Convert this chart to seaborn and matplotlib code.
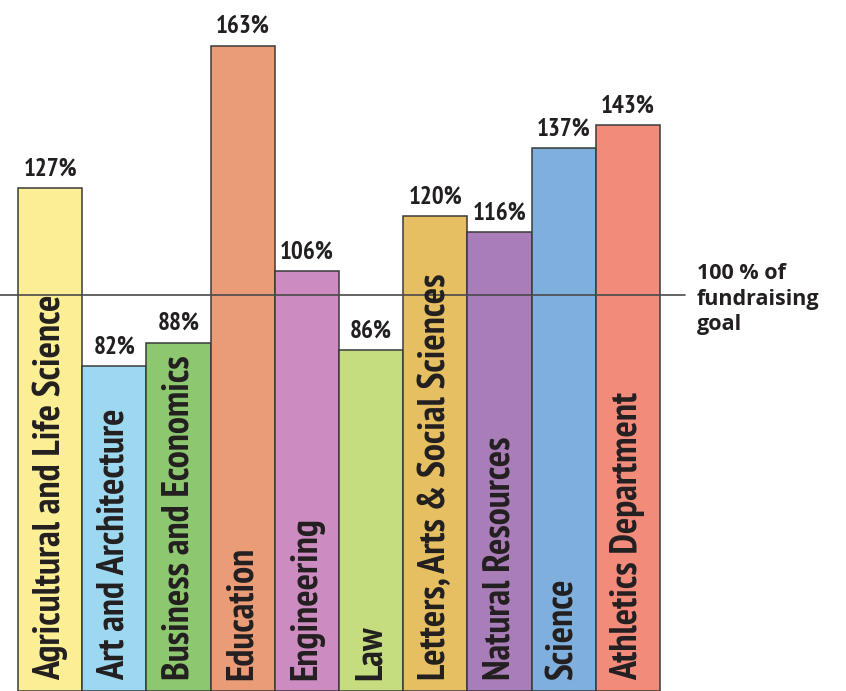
import matplotlib
matplotlib.use("Agg")
import matplotlib.pyplot as plt
import seaborn as sns
import pandas as pd

categories = ["Agricultural and Life Science", "Art and Architecture",
              "Business and Economics", "Education", "Engineering", "Law",
              "Letters, Arts & Social Sciences", "Natural Resources",
              "Science", "Athletics Department"]
values = [127, 82, 88, 163, 106, 86, 120, 116, 137, 143]
colors = ["#FBEE94", "#9DD8F1", "#8DC871", "#EA9C76", "#CC8BC1",
          "#C6DD7F", "#E6BF63", "#A97EB8", "#7EAFDD", "#F28B7A"]
goal = 100
goal_label = "100 % of\nfundraising\ngoal"

sns.set_theme(style="white")
plt.rcParams["font.family"] = ["Open Sans", "DejaVu Sans"]
narrow = ["PT Sans Narrow", "DejaVu Sans"]
ink = "#231F20"

df = pd.DataFrame({"cat": categories, "val": values})

fig = plt.figure(figsize=(8.46, 6.91), dpi=100)
ext = 4  # px the axes reaches below the figure, to hide bar bottoms
ax = fig.add_axes([0, -ext / 691, 1, (691 + ext) / 691])
sns.barplot(data=df, x="cat", y="val", hue="cat", palette=colors, legend=False,
            width=1.0, edgecolor="#3a3a3a", linewidth=1.1, saturation=1, ax=ax)

bw = 64.2
ppu = 3.96  # pixels per percent
left = -0.5 - 18 / bw
ax.set_xlim(left, left + 846 / bw)
ax.set_ylim(-ext / ppu, 691 / ppu)
ax.axis("off")

for p in ax.patches:
    p.set_zorder(2)
ax.axhline(goal, xmin=0, xmax=685 / 846, color="#4a4a4a", lw=1.2, zorder=2.5)

for i, v in enumerate(values):
    ax.text(i, v + 1.9, f"{v}%", ha="center", va="bottom", fontsize=18,
            fontweight="bold", family=narrow, color=ink, zorder=3)

ax.text(697 / bw + left, 100 + 8.0, goal_label, ha="left", va="top",
        fontsize=15.5, fontweight="bold", color=ink, linespacing=1.28,
        transform=ax.transData)

fig.canvas.draw()
r = fig.canvas.get_renderer()
texts = []
for i, c in enumerate(categories):
    t = ax.text(i, 2.8, c, rotation=90, ha="center", va="bottom",
                fontsize=26, fontweight="bold", family=narrow,
                color=ink, zorder=3)
    texts.append(t)
fig.canvas.draw()
h = texts[0].get_window_extent(r).height
scale = 384 / h
for t in texts:
    t.set_fontsize(26 * scale)

fig.savefig("out.png", dpi=100)
